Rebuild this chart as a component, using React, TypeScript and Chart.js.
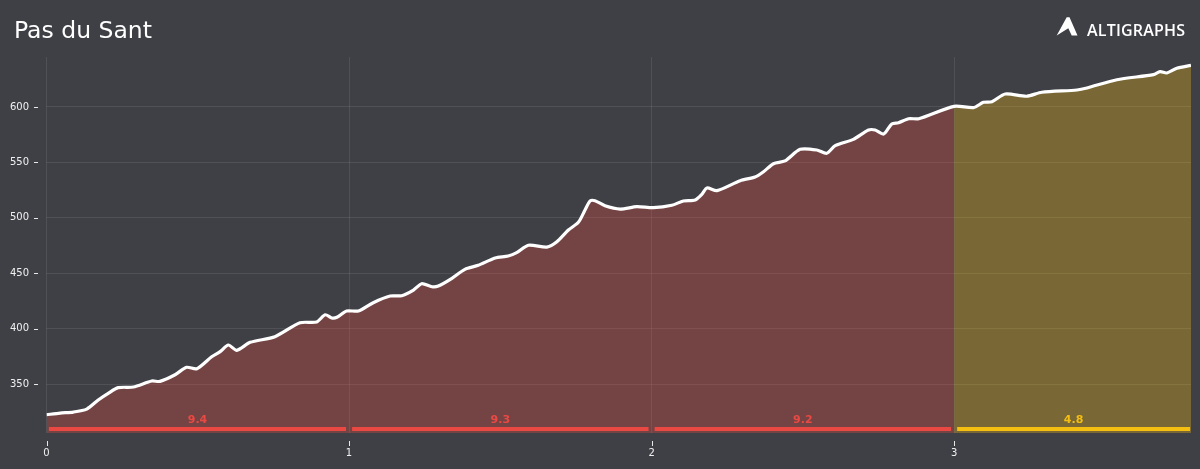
import React, { useEffect, useRef } from "react";
import { Chart, registerables } from "chart.js";

Chart.register(...registerables);

const chartTitle = "Pas du Sant";
const brandName = "ALTIGRAPHS";

const distanceKm = [
  0, 0.045, 0.089, 0.133, 0.171, 0.204, 0.237, 0.287, 0.348, 0.375, 0.425, 0.463, 0.497, 0.546, 0.574, 0.601, 0.629,
  0.673, 0.755, 0.838, 0.893, 0.921, 0.943, 0.96, 0.992, 1.031, 1.08, 1.136, 1.174, 1.213, 1.24, 1.274, 1.295, 1.34,
  1.383, 1.427, 1.483, 1.526, 1.554, 1.593, 1.654, 1.687, 1.725, 1.758, 1.78, 1.797, 1.813, 1.846, 1.896, 1.951, 2.006,
  2.067, 2.105, 2.144, 2.166, 2.183, 2.216, 2.293, 2.342, 2.37, 2.403, 2.441, 2.491, 2.546, 2.579, 2.607, 2.667, 2.717,
  2.739, 2.767, 2.794, 2.816, 2.85, 2.883, 3, 3.064, 3.097, 3.125, 3.169, 3.24, 3.29, 3.406, 3.439, 3.538, 3.659, 3.681,
  3.703, 3.736, 3.783,
];

const elevationM = [
  322.3, 323.8, 324.7, 327.4, 335.6, 341.6, 346.7, 347.3, 352.7, 352.4, 358.4, 365.1, 363.8, 374.6, 379.2, 385.2, 380.4,
  387.6, 392.7, 405.3, 406, 412.5, 409.6, 410.2, 415.9, 415.9, 423.4, 429.4, 429.7, 434.8, 440.5, 437.8, 438.4, 445.4,
  453.5, 457.1, 463.7, 465.5, 468.5, 475.2, 473.6, 478.4, 489, 495.9, 507, 515.2, 515.4, 510.9, 507.9, 510, 509.1, 511.3,
  515.2, 516.1, 521.2, 526.9, 524.5, 533.5, 536.8, 541.6, 548.8, 551.3, 561.8, 561.2, 558.2, 565.1, 570.8, 579.2, 579.2,
  575.6, 584.7, 585.8, 589.4, 589.4, 600.6, 599.4, 604.2, 604.8, 611.7, 609.7, 613.3, 615.3, 617.1, 624.6, 629.2, 631.9,
  630.7, 634.9, 637.6,
];

const xTickValues = [0, 1, 2, 3];
const yTickValues = [350, 400, 450, 500, 550, 600];

const segmentStart = [0.008, 1.01, 2.01, 3.01];
const segmentEnd = [0.99, 1.99, 2.99, 3.78];
const segmentGrade = ["9.4", "9.3", "9.2", "4.8"];
const segmentLevel = 309.4;
const gradeSplitKm = 3;

const BG = "#3f4046";
const RED = "#ea4843";
const YELLOW = "#f5bf12";
const TEXT = "#f0f0f0";
const GRID = "rgba(255,255,255,0.09)";
const segmentColor = [RED, RED, RED, YELLOW];

const profile = distanceKm.map((x, i) => ({ x, y: elevationM[i] }));

const overlay = {
  id: "overlay",
  afterDatasetsDraw(chart: any) {
    const { ctx, scales } = chart;
    const xs = scales.x;
    const ys = scales.y;
    ctx.save();
    // title
    ctx.fillStyle = "#ffffff";
    ctx.font = "23.5px 'DejaVu Sans'";
    ctx.textAlign = "left";
    ctx.textBaseline = "alphabetic";
    ctx.fillText(chartTitle, 14, 37.5);
    // detached axis tick marks
    ctx.strokeStyle = "#e8e8e8";
    ctx.lineWidth = 1;
    xTickValues.forEach((v) => {
      const p = Math.round(xs.getPixelForValue(v)) + 0.5;
      ctx.beginPath();
      ctx.moveTo(p, 441);
      ctx.lineTo(p, 446);
      ctx.stroke();
    });
    yTickValues.forEach((v) => {
      const p = Math.round(ys.getPixelForValue(v)) + 0.5;
      ctx.beginPath();
      ctx.moveTo(34, p);
      ctx.lineTo(38, p);
      ctx.stroke();
    });
    // segment grade labels
    ctx.font = "bold 11px 'DejaVu Sans'";
    ctx.textAlign = "center";
    ctx.textBaseline = "middle";
    segmentGrade.forEach((g, i) => {
      ctx.fillStyle = segmentColor[i];
      const c = (segmentStart[i] + segmentEnd[i]) / 2;
      ctx.fillText(g, xs.getPixelForValue(c), 420);
    });
    // brand mark
    ctx.fillStyle = "#ffffff";
    ctx.beginPath();
    ctx.moveTo(1066.7, 17.3);
    ctx.lineTo(1069.5, 17.3);
    ctx.lineTo(1077.5, 35.5);
    ctx.lineTo(1071.7, 35.5);
    ctx.lineTo(1068.3, 28.3);
    ctx.lineTo(1056.7, 35.5);
    ctx.closePath();
    ctx.fill();
    // brand name
    ctx.font = "600 16px 'Open Sans'";
    ctx.letterSpacing = "0.2px";
    ctx.textAlign = "left";
    ctx.textBaseline = "alphabetic";
    ctx.fillText(brandName, 1087, 36);
    ctx.restore();
  },
};

export default function App() {
  const ref = useRef<HTMLCanvasElement>(null);

  useEffect(() => {
    document.body.style.margin = "0";
    document.body.style.background = BG;
    const lineBase = { pointRadius: 0, tension: 0.25, borderJoinStyle: "round" as const };
    const chart = new Chart(ref.current!, {
      type: "line",
      data: {
        datasets: [
          ...segmentGrade.map((g, i) => ({
            label: "Grade " + g,
            data: [
              { x: segmentStart[i], y: segmentLevel },
              { x: segmentEnd[i], y: segmentLevel },
            ],
            borderColor: segmentColor[i],
            borderWidth: 4,
            pointRadius: 0,
            fill: false,
            order: 1,
          })),
          {
            ...lineBase,
            label: "Profile",
            data: profile,
            borderColor: "#ffffff",
            borderWidth: 3.2,
            fill: false,
            order: 0,
          },
          {
            ...lineBase,
            label: "Steep",
            data: profile.filter((p) => p.x <= gradeSplitKm),
            borderWidth: 0,
            borderColor: "transparent",
            backgroundColor: "rgba(226,75,64,0.33)",
            fill: "start",
            order: 2,
          },
          {
            ...lineBase,
            label: "Gentle",
            data: profile.filter((p) => p.x >= gradeSplitKm),
            borderWidth: 0,
            borderColor: "transparent",
            backgroundColor: "rgba(240,184,19,0.33)",
            fill: "start",
            order: 2,
          },
        ],
      },
      options: {
        responsive: false,
        animation: false,
        devicePixelRatio: 1,
        layout: { padding: { top: 57, left: 0, right: 9, bottom: 0 } },
        plugins: {
          legend: { display: false },
          tooltip: { enabled: false },
          title: { display: false },
        },
        scales: {
          x: {
            type: "linear",
            min: 0,
            max: 3.783,
            border: { display: false },
            grid: { color: GRID, tickLength: 0 },
            afterFit(s: any) {
              s.height = 36;
            },
            afterBuildTicks(s: any) {
              s.ticks = xTickValues.map((value) => ({ value }));
            },
            ticks: {
              color: TEXT,
              padding: 14,
              maxRotation: 0,
              font: { family: "'DejaVu Sans'", size: 10 },
            },
          },
          y: {
            type: "linear",
            min: 305.8,
            max: 645.1,
            border: { display: false },
            grid: { color: GRID, tickLength: 0 },
            afterFit(s: any) {
              s.width = 46.5;
            },
            afterBuildTicks(s: any) {
              s.ticks = yTickValues.map((value) => ({ value }));
            },
            ticks: {
              color: TEXT,
              padding: 17.5,
              font: { family: "'DejaVu Sans'", size: 10 },
            },
          },
        },
      },
      plugins: [overlay],
    } as any);
    return () => chart.destroy();
  }, []);

  return (
    <canvas
      ref={ref}
      width={1200}
      height={469}
      style={{ display: "block", width: 1200, height: 469, background: BG }}
    />
  );
}
